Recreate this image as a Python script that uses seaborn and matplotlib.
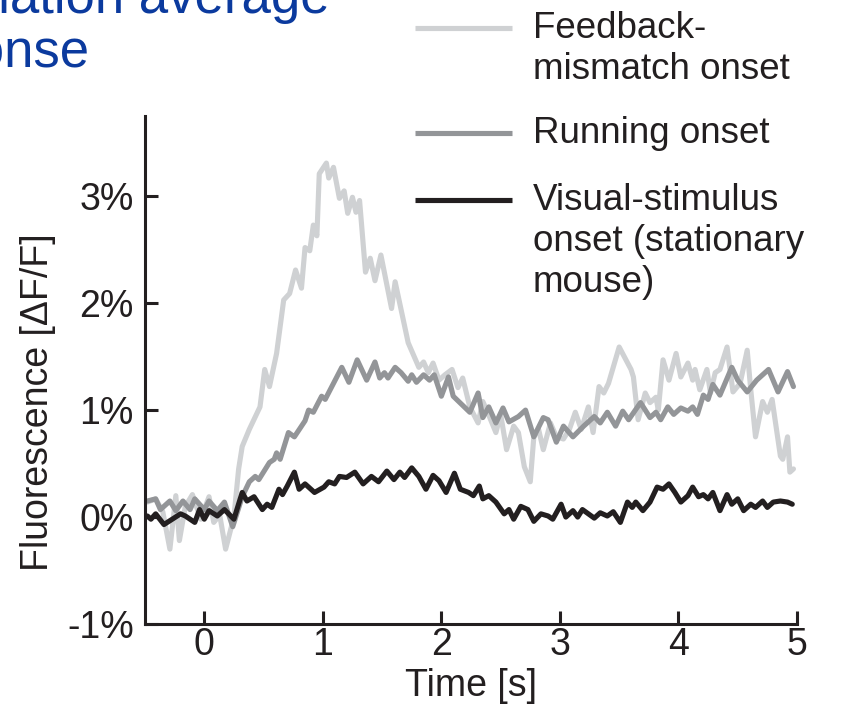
"""
Population average response: fluorescence traces aligned to three event types.
"""

import matplotlib
matplotlib.use("Agg")
import matplotlib.pyplot as plt
from matplotlib.lines import Line2D
import pandas as pd
import seaborn as sns

# Dados (tempo em s, fluorescência em %)
mismatch_t = [-0.48, -0.41, -0.35, -0.29, -0.24, -0.21, -0.16, -0.10, -0.03, 0.04,
              0.08, 0.13, 0.18, 0.25, 0.29, 0.32, 0.38, 0.47, 0.51, 0.55,
              0.61, 0.67, 0.72, 0.77, 0.82, 0.85, 0.89, 0.92, 0.95, 0.97,
              1.03, 1.05, 1.09, 1.14, 1.18, 1.21, 1.25, 1.28, 1.31, 1.36,
              1.40, 1.44, 1.49, 1.58, 1.61, 1.72, 1.81, 1.85, 1.89, 1.93,
              1.98, 2.03, 2.09, 2.14, 2.18, 2.24, 2.31, 2.35, 2.39, 2.46,
              2.50, 2.55, 2.61, 2.65, 2.70, 2.75, 2.78, 2.82, 2.86, 2.92,
              2.97, 3.03, 3.08, 3.13, 3.18, 3.24, 3.28, 3.33, 3.37, 3.41,
              3.50, 3.60, 3.62, 3.66, 3.72, 3.76, 3.81, 3.83, 3.87, 3.92,
              3.98, 4.02, 4.08, 4.12, 4.14, 4.18, 4.24, 4.27, 4.31, 4.35,
              4.41, 4.46, 4.52, 4.58, 4.61, 4.65, 4.71, 4.75, 4.79, 4.86,
              4.88, 4.92, 4.94, 4.97]
mismatch_v = [0.14, 0.17, 0.05, -0.30, 0.20, -0.22, 0.10, 0.21, -0.02, 0.19,
              -0.05, 0.02, -0.30, 0.00, 0.45, 0.66, 0.82, 1.03, 1.38, 1.22,
              1.53, 2.03, 2.09, 2.31, 2.14, 2.52, 2.49, 2.73, 2.63, 3.21,
              3.31, 3.17, 3.27, 2.98, 3.05, 2.84, 2.99, 2.85, 2.96, 2.29,
              2.42, 2.21, 2.45, 1.95, 2.20, 1.63, 1.40, 1.45, 1.35, 1.44,
              1.28, 1.33, 1.38, 1.21, 1.30, 1.03, 0.88, 1.08, 0.98, 0.79,
              0.96, 0.63, 0.85, 0.79, 0.47, 0.33, 0.75, 0.82, 0.63, 0.88,
              0.75, 0.73, 0.82, 0.98, 0.82, 1.03, 0.79, 1.22, 1.16, 1.25,
              1.59, 1.38, 1.31, 0.91, 1.16, 1.07, 1.12, 1.00, 1.47, 1.28,
              1.53, 1.31, 1.44, 1.28, 1.38, 1.19, 1.38, 1.16, 1.35, 1.38,
              1.59, 1.17, 1.25, 1.56, 1.19, 0.75, 1.08, 0.98, 1.10, 0.57,
              0.54, 0.75, 0.42, 0.45]

running_t = [-0.48, -0.41, -0.37, -0.29, -0.24, -0.18, -0.12, -0.08, 0.00, 0.04,
             0.11, 0.17, 0.24, 0.32, 0.38, 0.43, 0.46, 0.55, 0.59, 0.61,
             0.64, 0.71, 0.76, 0.85, 0.88, 0.92, 0.99, 1.02, 1.16, 1.22,
             1.29, 1.37, 1.44, 1.48, 1.52, 1.55, 1.61, 1.66, 1.72, 1.75,
             1.79, 1.85, 1.90, 1.94, 2.00, 2.06, 2.10, 2.24, 2.31, 2.35,
             2.40, 2.46, 2.52, 2.57, 2.65, 2.71, 2.78, 2.86, 2.90, 2.97,
             3.03, 3.11, 3.20, 3.29, 3.34, 3.40, 3.47, 3.53, 3.58, 3.68,
             3.76, 3.81, 3.85, 3.91, 3.96, 4.02, 4.08, 4.12, 4.16, 4.21,
             4.25, 4.29, 4.35, 4.45, 4.50, 4.58, 4.66, 4.76, 4.84, 4.92,
             4.97]
running_v = [0.15, 0.17, 0.07, 0.15, 0.06, 0.15, 0.07, 0.17, 0.07, 0.15,
             0.06, 0.14, -0.09, 0.19, 0.33, 0.38, 0.35, 0.51, 0.54, 0.60,
             0.54, 0.79, 0.75, 0.90, 1.00, 0.98, 1.13, 1.10, 1.40, 1.26,
             1.47, 1.28, 1.45, 1.30, 1.35, 1.30, 1.40, 1.35, 1.27, 1.33,
             1.26, 1.33, 1.28, 1.33, 1.13, 1.31, 1.13, 0.98, 1.16, 0.93,
             1.03, 0.88, 1.02, 0.89, 0.94, 1.00, 0.75, 0.93, 0.91, 0.70,
             0.85, 0.75, 0.85, 0.94, 0.88, 0.98, 0.85, 0.99, 0.91, 1.07,
             0.93, 0.98, 0.91, 1.03, 0.96, 1.02, 0.99, 1.03, 0.96, 1.14,
             1.10, 1.24, 1.14, 1.40, 1.28, 1.17, 1.28, 1.38, 1.17, 1.36,
             1.22]

visual_t = [-0.48, -0.45, -0.41, -0.34, -0.27, -0.20, -0.16, -0.08, -0.04, 0.00,
            0.04, 0.11, 0.17, 0.25, 0.32, 0.36, 0.42, 0.49, 0.53, 0.57,
            0.63, 0.66, 0.70, 0.76, 0.80, 0.85, 0.93, 1.01, 1.05, 1.10,
            1.14, 1.20, 1.27, 1.34, 1.41, 1.47, 1.54, 1.60, 1.65, 1.69,
            1.75, 1.81, 1.87, 1.93, 1.98, 2.04, 2.11, 2.16, 2.23, 2.27,
            2.32, 2.35, 2.40, 2.46, 2.53, 2.57, 2.61, 2.67, 2.73, 2.78,
            2.84, 2.90, 2.94, 3.01, 3.05, 3.11, 3.15, 3.19, 3.24, 3.29,
            3.34, 3.40, 3.45, 3.51, 3.57, 3.61, 3.64, 3.70, 3.76, 3.82,
            3.87, 3.92, 3.97, 4.02, 4.08, 4.12, 4.17, 4.21, 4.25, 4.29,
            4.35, 4.41, 4.45, 4.50, 4.55, 4.61, 4.65, 4.71, 4.75, 4.80,
            4.86, 4.92, 4.96]
visual_v = [0.01, -0.02, 0.03, -0.07, -0.02, 0.03, 0.01, -0.05, 0.07, -0.02,
            0.06, 0.01, 0.07, -0.02, 0.23, 0.15, 0.19, 0.07, 0.12, 0.09,
            0.26, 0.21, 0.29, 0.42, 0.26, 0.31, 0.23, 0.28, 0.33, 0.31,
            0.38, 0.37, 0.42, 0.31, 0.38, 0.33, 0.43, 0.35, 0.42, 0.37,
            0.46, 0.38, 0.26, 0.39, 0.34, 0.23, 0.41, 0.26, 0.23, 0.20,
            0.29, 0.17, 0.20, 0.14, 0.03, 0.07, -0.02, 0.10, 0.07, -0.04,
            0.03, 0.01, -0.02, 0.12, 0.00, 0.06, 0.00, 0.07, 0.03, -0.01,
            0.04, 0.01, 0.05, -0.05, 0.14, 0.09, 0.14, 0.06, 0.14, 0.28,
            0.26, 0.31, 0.23, 0.14, 0.20, 0.28, 0.19, 0.21, 0.17, 0.23,
            0.06, 0.21, 0.12, 0.17, 0.06, 0.12, 0.09, 0.15, 0.09, 0.14,
            0.15, 0.14, 0.12]

series_labels = ["Feedback-\nmismatch onset", "Running onset",
                 "Visual-stimulus\nonset (stationary\nmouse)"]
series_colors = ["#cfd1d3", "#939598", "#231f20"]
x_ticks = [0, 1, 2, 3, 4, 5]
y_ticks = [-1, 0, 1, 2, 3]
y_tick_labels = ["-1%", "0%", "1%", "2%", "3%"]
title_lines = ["Population average", "response"]

FIG_W, FIG_H = 841, 712
INK = "#231f20"
TITLE_BLUE = "#0b3a9e"
LINE_W = 3.7


def px(x, y):
    """Converte pixels (origem no topo) para fração da figura."""
    return x / FIG_W, 1 - y / FIG_H


def build_frame():
    frames = []
    for label, t, v in zip(series_labels,
                           [mismatch_t, running_t, visual_t],
                           [mismatch_v, running_v, visual_v]):
        frames.append(pd.DataFrame({"time": t, "value": v, "event": label}))
    return pd.concat(frames, ignore_index=True)


def main():
    sns.set_style("ticks")
    plt.rcParams["font.family"] = ["Liberation Sans", "DejaVu Sans"]

    fig = plt.figure(figsize=(FIG_W / 100, FIG_H / 100), dpi=100)
    ax = fig.add_axes([145 / FIG_W, 1 - 624 / FIG_H, 652 / FIG_W, 508 / FIG_H])

    df = build_frame()
    sns.lineplot(data=df, x="time", y="value", hue="event",
                 hue_order=series_labels,
                 palette=dict(zip(series_labels, series_colors)),
                 estimator=None, linewidth=LINE_W, legend=False, ax=ax)

    ax.set_xlim(-0.5, 5.0)
    ax.set_ylim(-1.0, 3.75)
    ax.set_xticks(x_ticks)
    ax.set_xticklabels([str(t) for t in x_ticks])
    ax.set_yticks(y_ticks)
    ax.set_yticklabels(y_tick_labels)
    sns.despine(ax=ax)
    for side in ["left", "bottom"]:
        ax.spines[side].set_linewidth(2.2)
        ax.spines[side].set_color(INK)
        ax.spines[side].set_capstyle("projecting")
    ax.tick_params(axis="both", direction="in", length=9.5, width=2.2,
                   color=INK, labelsize=27, labelcolor=INK)
    ax.tick_params(axis="x", pad=2)
    ax.tick_params(axis="y", pad=8)

    ax.set_xlabel("Time [s]", fontsize=27, color=INK)
    ax.set_ylabel("Fluorescence [ΔF/F]", fontsize=27, color=INK)
    ax.xaxis.set_label_coords(0.5, -0.087)
    ax.yaxis.set_label_coords(-0.137, 0.437)

    # Título (cortado na borda esquerda, como no original)
    fig.text(*px(330, 13), title_lines[0], ha="right", va="baseline",
             fontsize=38, color=TITLE_BLUE,
             family=["Liberation Sans Narrow", "Liberation Sans"])
    fig.text(*px(90, 67), title_lines[1], ha="right", va="baseline",
             fontsize=38, color=TITLE_BLUE,
             family=["Liberation Sans Narrow", "Liberation Sans"])

    # Legenda desenhada à mão: traço alinhado à primeira linha do rótulo
    handle_y = [28, 133, 200]
    first_baseline = [38, 143, 210]
    line_step = 41
    for label, color, hy, by in zip(series_labels, series_colors,
                                    handle_y, first_baseline):
        x0, y0 = px(415, hy)
        x1, _ = px(512, hy)
        fig.add_artist(Line2D([x0, x1], [y0, y0], color=color, lw=LINE_W,
                              solid_capstyle="butt",
                              transform=fig.transFigure))
        for i, part in enumerate(label.split("\n")):
            fig.text(*px(533, by + i * line_step), part, ha="left",
                     va="baseline", fontsize=26.5, color=INK)

    fig.savefig("out.png", dpi=100)
    plt.close(fig)


if __name__ == "__main__":
    main()
